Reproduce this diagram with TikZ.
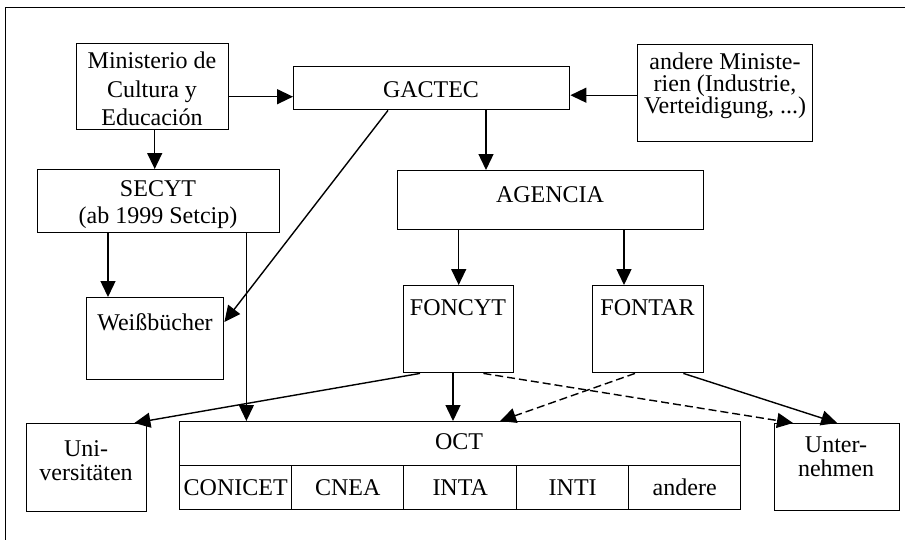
\documentclass[tikz,border=0pt]{standalone}
\usepackage{fontspec}
\setmainfont{Liberation Serif}
\usetikzlibrary{arrows.meta,calc}
\begin{document}
\begin{tikzpicture}[x=1pt,y=-1pt,
  box/.style={draw, line width=1.4pt, inner sep=0pt, anchor=north west},
  txt/.style={font=\fontsize{24}{28.5}\selectfont, align=center, inner sep=0pt},
  arr/.style={line width=1.4pt, -{Triangle[length=16pt,width=15pt]}},
  darr/.style={arr, dash pattern=on 8pt off 4pt},
]
\useasboundingbox (0,0) rectangle (905,539);
% frame
\draw[line width=1pt] (5,545) -- (5,7) -- (912,7);

% boxes
\node[box, minimum width=152, minimum height=86] (min) at (76,43) {};
\node[txt] (mint) at (152,89) {Ministerio de\\Cultura y\\Educación};
\node[box, minimum width=276, minimum height=43] (gactec) at (293,66) {};
\node[txt] (gactect) at (431,90) {GACTEC};
\node[box, minimum width=175, minimum height=97] (andere) at (637,44) {};
\node[txt, font=\fontsize{24}{22}\selectfont] (anderet) at (725,86) {andere Ministe-\\rien (Industrie,\\Verteidigung, ...)};
\node[box, minimum width=242, minimum height=63] (secyt) at (37,169) {};
\node[txt, font=\fontsize{24}{27}\selectfont] (secytt) at (158,205) {SECYT\\(ab 1999 Setcip)};
\node[box, minimum width=306, minimum height=59] (agencia) at (397,170) {};
\node[txt] (agenciat) at (550,195) {AGENCIA};
\node[box, minimum width=137, minimum height=82] (weiss) at (86,297) {};
\node[txt] (weisst) at (155,322) {Weißbücher};
\node[box, minimum width=110, minimum height=87] (foncyt) at (403,285) {};
\node[txt] (foncytt) at (458,308) {FONCYT};
\node[box, minimum width=111, minimum height=87] (fontar) at (592,285) {};
\node[txt] (fontart) at (647.5,308) {FONTAR};
\node[box, minimum width=120, minimum height=88] (uni) at (26,423) {};
\node[txt, font=\fontsize{24}{24}\selectfont] (unit) at (86,461) {Uni-\\versitäten};
\node[box, minimum width=125, minimum height=87] (unt) at (774,423) {};
\node[txt, font=\fontsize{24}{24}\selectfont] (untt) at (836,457) {Unter-\\nehmen};
\node[box, minimum width=561, minimum height=88] (oct) at (179,421) {};
\node[txt] (octt) at (459,442) {OCT};
\node[box, txt, minimum width=112, minimum height=44] (conicet) at (179,465) {CONICET};
\node[box, txt, minimum width=112, minimum height=44] (cnea) at (291,465) {CNEA};
\node[box, txt, minimum width=113, minimum height=44] (inta) at (403,465) {INTA};
\node[box, txt, minimum width=112, minimum height=44] (inti) at (516,465) {INTI};
\node[box, txt, minimum width=112, minimum height=44] (anderec) at (628,465) {andere};

% connector end points
\coordinate (c1) at ($(min.east)+(0,10)$);
\coordinate (c2) at ($(andere.west)+(0,2)$);
\coordinate (c3) at ($(min.south)+(2,0)$);
\coordinate (c4) at ($(gactec.south west)+(193,0)$);
\coordinate (c5) at ($(secyt.south west)+(71,0)$);
\coordinate (c6) at ($(secyt.south east)+(-34,0)$);
\coordinate (c7) at ($(gactec.south west)+(95,0)$);
\coordinate (c8) at ($(weiss.north east)+(0,25)$);
\coordinate (c9) at ($(fontar.north west)+(32,0)$);
\coordinate (c10) at ($(foncyt.south west)+(17,0)$);
\coordinate (c11) at ($(uni.north east)+(-13,0)$);
\coordinate (c12) at ($(foncyt.south west)+(50,0)$);
\coordinate (c13) at ($(foncyt.south east)+(-31,0)$);
\coordinate (c14) at ($(unt.north west)+(19,0)$);
\coordinate (c15) at ($(fontar.south west)+(43,0)$);
\coordinate (c16) at ($(oct.north west)+(321,0)$);
\coordinate (c17) at ($(fontar.south east)+(-21,0)$);

% arrows
\draw[arr] (c1) -- (c1 -| gactec.west);
\draw[arr] (c2) -- (c2 -| gactec.east);
\draw[arr] (c3) -- (c3 |- secyt.north);
\draw[arr] (c4) -- (c4 |- agencia.north);
\draw[arr] (c5) -- (c5 |- weiss.north);
\draw[arr] (c6) -- (c6 |- oct.north);
\draw[arr] (c7) -- (c8);
\draw[arr] (foncyt.north |- agencia.south) -- (foncyt.north);
\draw[arr] (c9 |- agencia.south) -- (c9);
\draw[arr] (c10) -- (c11);
\draw[arr] (c12) -- (c12 |- oct.north);
\draw[darr] (c13) -- (c14);
\draw[darr] (c15) -- (c16);
\draw[arr] (c17) -- (unt.north);
\end{tikzpicture}
\end{document}
